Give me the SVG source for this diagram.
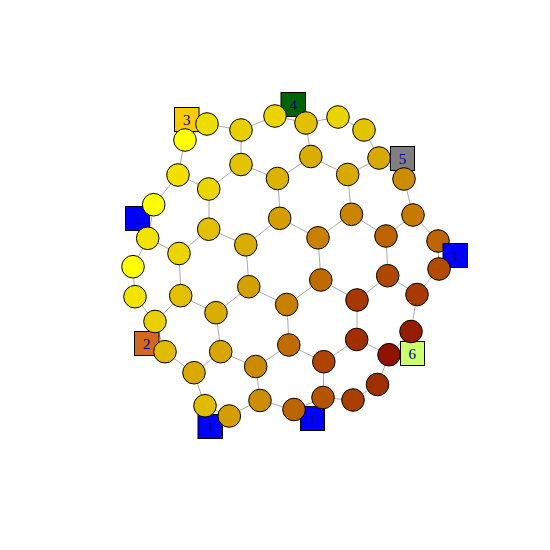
<svg xmlns="http://www.w3.org/2000/svg" width="550" height="550" viewBox="0 0 550 550">
<style>
.e{stroke:#AAAAAA;stroke-width:1;fill:none}
.n{stroke:#000;stroke-width:1}
.s{stroke:#000;stroke-width:1}
.t{font-family:"Liberation Serif",serif;font-size:15px;fill:#00008B;text-anchor:middle}
</style>
<rect width="550" height="550" fill="#fff"/>
<g id="edges" class="e">
<path d="M207,124L241,130L275,116L306,123L338,117L364,130L379,158L404,179L413,215L438,241L439,269L417,294L411,332L389,355L378,384L353,400L323,398L294,410L260,400L229,416L205,406L194,373L165,352L155,322L135,297L133,267L148,238L154,205L178,175L185,140Z"/>
<path d="M241,164L278,179L311,157L348,175L351,214L386,236L388,276L357,300L357,339L324,362L289,345L256,367L221,352L216,313L181,296L179,254L209,229L209,189Z"/>
<path d="M280,218L318,238L321,280L287,305L249,287L246,245Z"/>
<path d="M241,130L241,164M306,123L311,157M379,158L348,175M413,215L386,236M417,294L388,276M389,355L357,339M323,398L324,362M260,400L256,367M194,373L221,352M155,322L181,296M148,238L179,254M178,175L209,189"/>
<path d="M278,179L280,218M351,214L318,238M357,300L321,280M289,345L287,305M216,313L249,287M209,229L246,245"/>
</g>
<g id="sq3"><rect class="s" x="174.5" y="107.5" width="24.5" height="24" fill="#F8CC00"/><text class="t" x="186.8" y="125">3</text></g>
<g id="sq4"><rect class="s" x="281" y="92.5" width="24.5" height="24" fill="#006400"/><text class="t" x="293.3" y="110">4</text></g>
<g id="sq5"><rect class="s" x="390.5" y="146.5" width="24" height="24" fill="#7F7F7F"/><text class="t" x="402.5" y="164">5</text></g>
<g id="sq1a"><rect class="s" x="125.5" y="206.5" width="24" height="24" fill="#0000FF"/><text class="t" x="137.5" y="224">1</text></g>
<g id="sq2"><rect class="s" x="134.5" y="331.5" width="24.5" height="24" fill="#D2691E"/><text class="t" x="146.8" y="349">2</text></g>
<g id="sq6"><rect class="s" x="400.5" y="341.5" width="24" height="24" fill="#CAFF70"/><text class="t" x="412.3" y="359">6</text></g>
<g id="sq1c"><rect class="s" x="198" y="414.5" width="24.5" height="24" fill="#0000FF"/><text class="t" x="210.2" y="432">1</text></g>
<g id="sq1d"><rect class="s" x="300.5" y="406.5" width="24" height="24" fill="#0000FF"/><text class="t" x="312.5" y="424">1</text></g>
<g id="nodes" class="n">
<circle id="o1" cx="207" cy="124" r="11.3" fill="#EEDD00"/>
<circle id="o2" cx="241" cy="130" r="11.3" fill="#E8D000"/>
<circle id="o3" cx="275" cy="116" r="11.3" fill="#EAD400"/>
<circle id="o4" cx="306" cy="123" r="11.3" fill="#E0C000"/>
<circle id="o5" cx="338" cy="117" r="11.3" fill="#EAD400"/>
<circle id="o6" cx="364" cy="130" r="11.3" fill="#E2C400"/>
<circle id="o7" cx="379" cy="158" r="11.3" fill="#D8AA00"/>
<circle id="o8" cx="404" cy="179" r="11.3" fill="#CC8E00"/>
<circle id="o9" cx="413" cy="215" r="11.3" fill="#C87A00"/>
<circle id="o10" cx="438" cy="241" r="11.3" fill="#BE6400"/>
</g>
<g id="sq1b"><rect class="s" x="443" y="243.5" width="24.5" height="24" fill="#0000FF"/><text class="t" x="455" y="261">1</text></g>
<g id="nodes2" class="n">
<circle id="o11" cx="439" cy="269" r="11.3" fill="#B24A00"/>
<circle id="o12" cx="417" cy="294.5" r="11.3" fill="#A83A00"/>
<circle id="o13" cx="411" cy="331.5" r="11.3" fill="#961C00"/>
<circle id="o14" cx="389" cy="354.7" r="11.3" fill="#8E1400"/>
<circle id="o15" cx="377.5" cy="384.5" r="11.3" fill="#A03000"/>
<circle id="o16" cx="353" cy="400" r="11.3" fill="#AA4000"/>
<circle id="o17" cx="323" cy="397.5" r="11.3" fill="#B45400"/>
<circle id="o18" cx="294" cy="409.5" r="11.3" fill="#BC6400"/>
<circle id="o19" cx="260" cy="400.5" r="11.3" fill="#CC8E00"/>
<circle id="o20" cx="229.3" cy="416" r="11.3" fill="#D49E00"/>
<circle id="o21" cx="205" cy="405.7" r="11.3" fill="#E0BC00"/>
<circle id="o22" cx="194" cy="372.7" r="11.3" fill="#D8AA00"/>
<circle id="o23" cx="165" cy="351.7" r="11.3" fill="#E0BC00"/>
<circle id="o24" cx="155" cy="321.5" r="11.3" fill="#EAD000"/>
<circle id="o25" cx="135" cy="296.7" r="11.3" fill="#F2E400"/>
<circle id="o26" cx="133" cy="266.7" r="11.3" fill="#FFFF00"/>
<circle id="o27" cx="147.7" cy="238.3" r="11.3" fill="#F2E200"/>
<circle id="o28" cx="153.7" cy="204.7" r="11.3" fill="#FFFF00"/>
<circle id="o29" cx="178" cy="175" r="11.3" fill="#F2E000"/>
<circle id="o30" cx="185" cy="140" r="11.3" fill="#FFFF00"/>
<circle id="i31" cx="241" cy="164.5" r="11.3" fill="#E2C400"/>
<circle id="i32" cx="208.7" cy="189" r="11.3" fill="#ECD600"/>
<circle id="i33" cx="208.7" cy="229.2" r="11.3" fill="#E2C000"/>
<circle id="i34" cx="179" cy="253.5" r="11.3" fill="#ECD400"/>
<circle id="i35" cx="180.7" cy="295.7" r="11.3" fill="#E2C000"/>
<circle id="i36" cx="216" cy="312.7" r="11.3" fill="#DAAE00"/>
<circle id="i37" cx="220.7" cy="351.7" r="11.3" fill="#D8A600"/>
<circle id="i38" cx="255.7" cy="366.5" r="11.3" fill="#CC8A00"/>
<circle id="i39" cx="288.8" cy="345" r="11.3" fill="#C06C00"/>
<circle id="i40" cx="323.8" cy="361.7" r="11.3" fill="#AE4400"/>
<circle id="i41" cx="356.7" cy="339.5" r="11.3" fill="#A03000"/>
<circle id="i42" cx="357" cy="300" r="11.3" fill="#A43800"/>
<circle id="i43" cx="387.7" cy="275.7" r="11.3" fill="#AE4800"/>
<circle id="i44" cx="386" cy="236" r="11.3" fill="#BC6400"/>
<circle id="i45" cx="351.5" cy="214.3" r="11.3" fill="#CA8400"/>
<circle id="i46" cx="347.7" cy="174.5" r="11.3" fill="#D8AA00"/>
<circle id="i47" cx="310.8" cy="156.5" r="11.3" fill="#DAAE00"/>
<circle id="i48" cx="277.5" cy="178.5" r="11.3" fill="#DCB200"/>
<circle id="i49" cx="279.7" cy="218.3" r="11.3" fill="#D49E00"/>
<circle id="i50" cx="245.8" cy="244.8" r="11.3" fill="#DAAE00"/>
<circle id="i51" cx="248.8" cy="286.7" r="11.3" fill="#D4A000"/>
<circle id="i52" cx="286.7" cy="304.5" r="11.3" fill="#C88000"/>
<circle id="i53" cx="320.8" cy="280" r="11.3" fill="#BE6C00"/>
<circle id="i54" cx="318" cy="237.8" r="11.3" fill="#C88000"/>
</g>
</svg>
